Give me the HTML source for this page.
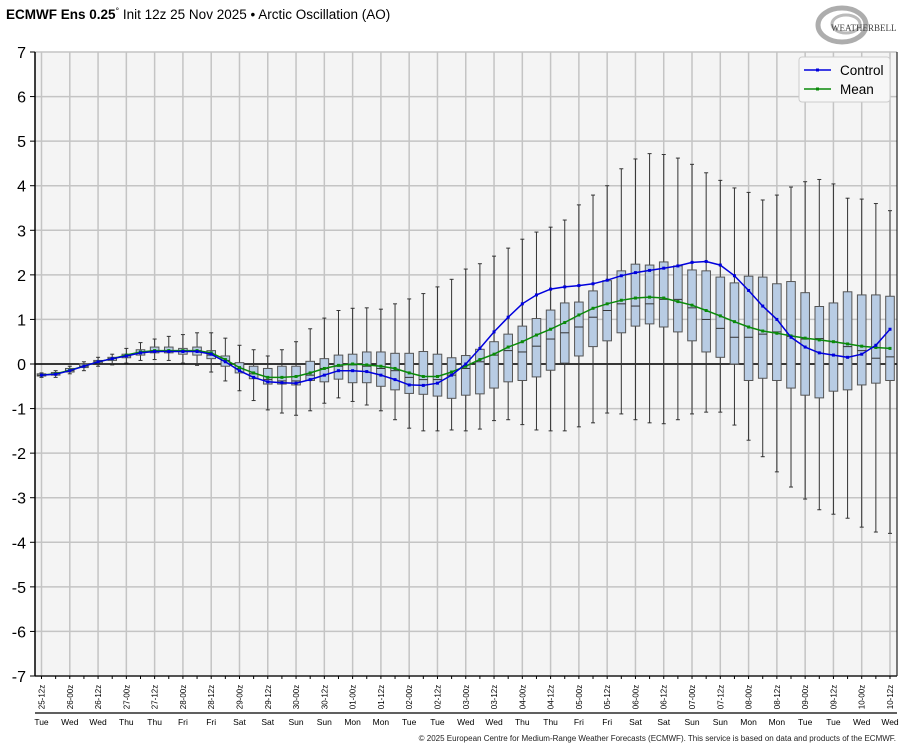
<!DOCTYPE html>
<html><head><meta charset="utf-8"><style>
body{margin:0;background:#fff;width:913px;height:750px;overflow:hidden;font-family:"Liberation Sans","DejaVu Sans",sans-serif}
svg{display:block}
</style></head><body>
<svg id="c" width="913" height="750" viewBox="0 0 913 750" xmlns="http://www.w3.org/2000/svg">
<text x="6" y="19" font-size="13.5" fill="#000"><tspan font-weight="bold">ECMWF Ens 0.25</tspan><tspan font-size="9" dy="-5">°</tspan><tspan dy="5"> Init 12z 25 Nov 2025 • Arctic Oscillation (AO)</tspan></text>
<g>
<ellipse cx="842" cy="25" rx="24" ry="17" fill="none" stroke="#999" stroke-width="5" opacity="0.8"/>
<ellipse cx="846" cy="24" rx="14" ry="9" fill="none" stroke="#bbb" stroke-width="3"/>
<text x="831" y="31" font-family="Liberation Serif,serif" font-size="9" fill="#444">WEATHERBELL</text>
</g>
<g id="plot"></g>
<text x="896" y="741" font-size="8" fill="#222" text-anchor="end">© 2025 European Centre for Medium-Range Weather Forecasts (ECMWF). This service is based on data and products of the ECMWF.</text>
</svg>
<script>
const categories=["25-12z","26-00z","26-12z","27-00z","27-12z","28-00z","28-12z","29-00z","29-12z","30-00z","30-12z","01-00z","01-12z","02-00z","02-12z","03-00z","03-12z","04-00z","04-12z","05-00z","05-12z","06-00z","06-12z","07-00z","07-12z","08-00z","08-12z","09-00z","09-12z","10-00z","10-12z"];
const dayLabels=["Tue","Wed","Wed","Thu","Thu","Fri","Fri","Sat","Sat","Sun","Sun","Mon","Mon","Tue","Tue","Wed","Wed","Thu","Thu","Fri","Fri","Sat","Sat","Sun","Sun","Mon","Mon","Tue","Tue","Wed","Wed"];
const yTicks=[-7,-6,-5,-4,-3,-2,-1,0,1,2,3,4,5,6,7];
const control=[-0.25,-0.23,-0.15,-0.05,0.05,0.12,0.18,0.25,0.28,0.28,0.28,0.28,0.22,0.05,-0.15,-0.3,-0.4,-0.42,-0.43,-0.35,-0.25,-0.15,-0.15,-0.17,-0.25,-0.35,-0.47,-0.48,-0.43,-0.25,0.0,0.35,0.72,1.05,1.35,1.55,1.68,1.73,1.76,1.8,1.88,1.98,2.05,2.1,2.15,2.2,2.28,2.3,2.22,1.98,1.65,1.3,1.0,0.6,0.38,0.25,0.2,0.15,0.22,0.42,0.78];
const mean=[-0.25,-0.22,-0.14,-0.05,0.05,0.12,0.2,0.27,0.3,0.3,0.3,0.3,0.25,0.1,-0.08,-0.2,-0.3,-0.3,-0.28,-0.2,-0.1,-0.03,0.0,-0.02,-0.05,-0.1,-0.2,-0.28,-0.28,-0.18,-0.05,0.1,0.22,0.38,0.5,0.65,0.78,0.93,1.1,1.25,1.35,1.43,1.48,1.5,1.48,1.4,1.32,1.2,1.08,0.95,0.83,0.74,0.69,0.63,0.58,0.54,0.5,0.45,0.4,0.37,0.35];
const boxMin=[-0.3,-0.3,-0.22,-0.15,-0.05,-0.02,0.02,0.08,0.1,0.08,0.02,-0.03,-0.18,-0.38,-0.6,-0.82,-1.03,-1.1,-1.15,-1.05,-0.88,-0.76,-0.84,-0.92,-1.05,-1.25,-1.44,-1.5,-1.5,-1.48,-1.5,-1.46,-1.27,-1.25,-1.36,-1.48,-1.5,-1.5,-1.41,-1.32,-1.1,-1.12,-1.25,-1.32,-1.34,-1.25,-1.12,-1.08,-1.08,-1.37,-1.71,-2.08,-2.42,-2.76,-3.03,-3.27,-3.37,-3.46,-3.66,-3.77,-3.8];
const boxQ1=[-0.27,-0.25,-0.18,-0.08,0.02,0.08,0.14,0.2,0.25,0.25,0.22,0.2,0.12,-0.05,-0.2,-0.33,-0.45,-0.45,-0.47,-0.37,-0.4,-0.34,-0.42,-0.42,-0.5,-0.58,-0.66,-0.68,-0.72,-0.77,-0.7,-0.67,-0.54,-0.4,-0.37,-0.29,-0.14,0.02,0.18,0.39,0.52,0.7,0.85,0.9,0.83,0.72,0.52,0.27,0.15,0.0,-0.37,-0.32,-0.37,-0.54,-0.7,-0.76,-0.61,-0.58,-0.47,-0.43,-0.37];
const boxMed=[-0.25,-0.22,-0.15,-0.05,0.05,0.12,0.18,0.25,0.3,0.3,0.28,0.3,0.2,0.08,-0.1,-0.22,-0.35,-0.38,-0.38,-0.25,-0.1,-0.05,-0.02,-0.05,-0.1,-0.15,-0.3,-0.35,-0.35,-0.25,-0.1,0.05,0.2,0.3,0.27,0.4,0.56,0.7,0.83,1.05,1.2,1.35,1.3,1.35,1.45,1.45,1.26,1.0,0.8,0.6,0.6,0.67,0.72,0.62,0.56,0.57,0.5,0.39,0.3,0.13,0.16];
const boxQ3=[-0.22,-0.19,-0.1,0.0,0.08,0.15,0.22,0.32,0.38,0.38,0.35,0.38,0.3,0.18,0.03,-0.05,-0.1,-0.05,-0.05,0.06,0.12,0.2,0.22,0.27,0.27,0.24,0.24,0.28,0.22,0.14,0.19,0.33,0.5,0.67,0.85,1.02,1.21,1.37,1.39,1.64,1.87,2.09,2.24,2.22,2.29,2.2,2.11,2.09,1.95,1.82,1.97,1.95,1.8,1.85,1.6,1.29,1.37,1.62,1.55,1.55,1.52];
const boxMax=[-0.2,-0.15,-0.05,0.05,0.15,0.22,0.35,0.48,0.56,0.62,0.66,0.7,0.7,0.58,0.42,0.32,0.18,0.32,0.5,0.79,1.03,1.2,1.25,1.26,1.23,1.35,1.46,1.58,1.73,1.9,2.13,2.25,2.42,2.6,2.8,2.96,3.07,3.23,3.57,3.79,4.0,4.38,4.6,4.72,4.7,4.62,4.48,4.29,4.12,3.95,3.85,3.68,3.79,3.97,4.09,4.14,4.04,3.72,3.7,3.6,3.44];

const NS="http://www.w3.org/2000/svg";
const L=35,R=897,T=52,B=676,X0=41.5,X1=890;
const nSteps=control.length;
function xPos(i){return X0+(X1-X0)*i/(nSteps-1);}
function yPos(v){return T+(7-v)*(B-T)/14;}
const g=document.getElementById('plot');
function mk(tag,attrs,parent){const e=document.createElementNS(NS,tag);for(const k in attrs)e.setAttribute(k,attrs[k]);(parent||g).appendChild(e);return e;}

const bg=mk('rect',{x:L,y:T,width:R-L,height:B-T,fill:'#f4f4f4'});



yTicks.forEach(v=>{
  const y=yPos(v);
  const ln=mk('line',{x1:L,x2:R,y1:y,y2:y,stroke:'#c4c4c4','stroke-width':1.5});
  
  
  mk('line',{x1:L-5,x2:L,y1:y,y2:y,stroke:'#000','stroke-width':1});
  const t=mk('text',{x:26,y:y+6,'font-size':16,'text-anchor':'end',fill:'#000'});
  t.textContent=v;
  
  
});
categories.forEach((c,k)=>{
  const x=xPos(k*2);
  const ln=mk('line',{x1:x,x2:x,y1:T,y2:B,stroke:'#c4c4c4','stroke-width':1.5});
  
  
  const t=mk('text',{x:0,y:0,'font-size':8,fill:'#000','text-anchor':'middle',transform:`translate(${x+3},${697}) rotate(-90)`});
  t.textContent=c;
  
  
  const d=mk('text',{x:x,y:725,'font-size':8.5,fill:'#000','text-anchor':'middle'});
  d.textContent=dayLabels[k];
  
  
});
for(let i=0;i<nSteps;i++){
  mk('line',{x1:xPos(i),x2:xPos(i),y1:B,y2:B+3,stroke:'#000','stroke-width':1});
}
mk('line',{x1:L,x2:R,y1:713,y2:713,stroke:'#000','stroke-width':1.2});
const zl=mk('line',{x1:L,x2:R,y1:yPos(0),y2:yPos(0),stroke:'#000','stroke-width':1.5});



for(let i=0;i<nSteps;i++){
  const x=xPos(i),w=4.3;
  const bx=mk('g',{});
  
  
  mk('line',{x1:x,x2:x,y1:yPos(boxMax[i]),y2:yPos(boxMin[i]),stroke:'#333','stroke-width':1},bx);
  mk('line',{x1:x-2,x2:x+2,y1:yPos(boxMax[i]),y2:yPos(boxMax[i]),stroke:'#333','stroke-width':1},bx);
  mk('line',{x1:x-2,x2:x+2,y1:yPos(boxMin[i]),y2:yPos(boxMin[i]),stroke:'#333','stroke-width':1},bx);
  mk('rect',{x:x-w,y:yPos(boxQ3[i]),width:2*w,height:Math.max(1,yPos(boxQ1[i])-yPos(boxQ3[i])),fill:'#b8cce4',stroke:'#555','stroke-width':1},bx);
  mk('line',{x1:x-w,x2:x+w,y1:yPos(boxMed[i]),y2:yPos(boxMed[i]),stroke:'#333','stroke-width':1},bx);
}
function series(arr,color,name){
  const pts=arr.map((v,i)=>xPos(i).toFixed(1)+','+yPos(v).toFixed(1)).join(' ');
  const pl=mk('polyline',{points:pts,fill:'none',stroke:color,'stroke-width':1.5});
  
  
  arr.forEach((v,i)=>{
    const p=mk('rect',{x:xPos(i)-1.5,y:yPos(v)-1.5,width:3,height:3,fill:color});
    
    
  });
}
series(mean,'#0a8a0a','mean');
series(control,'#0000dd','control');

mk('line',{x1:L,x2:L,y1:T,y2:B,stroke:'#000','stroke-width':1.5});
mk('line',{x1:L,x2:R,y1:B,y2:B,stroke:'#000','stroke-width':1.2});
mk('line',{x1:R,x2:R,y1:T,y2:B,stroke:'#222','stroke-width':1.2});

const lg=mk('g',{});


mk('rect',{x:799,y:57,width:91,height:45,rx:3,fill:'#f7f7f7',stroke:'#ccc','stroke-width':1},lg);
[['Control','#0000dd',70],['Mean','#0a8a0a',89]].forEach(([n,c,y])=>{
  const e=mk('g',{},lg);
  
  
  mk('line',{x1:804,x2:831,y1:y,y2:y,stroke:c,'stroke-width':1.5},e);
  mk('rect',{x:816,y:y-1.5,width:3,height:3,fill:c},e);
  const t=mk('text',{x:840,y:y+5,'font-size':13.5,fill:'#000'},e);
  t.textContent=n;
});
</script>
</body></html>
